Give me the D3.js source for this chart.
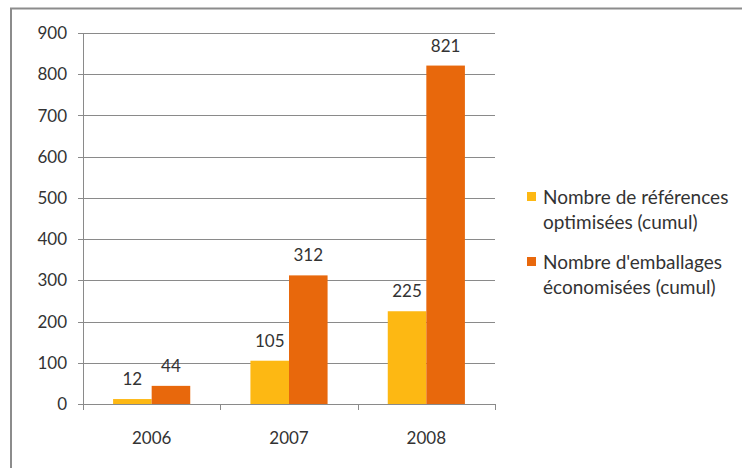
<!DOCTYPE html>
<html>
<head>
<meta charset="utf-8">
<script src="https://cdn.jsdelivr.net/npm/d3@7"></script>
<style>
  html, body { margin: 0; padding: 0; background: #fff; }
  svg { display: block; font-family: Lato, "Open Sans", sans-serif; }
</style>
</head>
<body>
<div id="chart"></div>
<script>
// Cumulative packaging optimisation, 2006-2008: two series side by side.
const years = ['2006', '2007', '2008'];
const refsOptimised = [12, 105, 225];
const packsSaved = [44, 312, 821];
const seriesNames = [
  ['Nombre de références', 'optimisées (cumul)'],
  ["Nombre d'emballages", 'économisées (cumul)'],
];
const seriesColors = ['#FDB813', '#E8680C'];
const yTicks = [0, 100, 200, 300, 400, 500, 600, 700, 800, 900];

const W = 742, H = 468;
const margin = { top: 33, right: 247, bottom: 64, left: 83 };
const innerW = W - margin.left - margin.right;
const innerH = H - margin.top - margin.bottom;

const svg = d3.select('#chart').append('svg').attr('width', W).attr('height', H);

// frame (only top + left edges show in the crop)
svg.append('line').attr('x1', 10).attr('x2', W).attr('y1', 8.5).attr('y2', 8.5)
  .style('stroke', '#8c8c8c').attr('stroke-width', 2);
svg.append('line').attr('x1', 11).attr('x2', 11).attr('y1', 8).attr('y2', H)
  .style('stroke', '#8c8c8c').attr('stroke-width', 2);

const g = svg.append('g').attr('transform', `translate(${margin.left},${margin.top})`);

const x = d3.scaleBand().domain(years).range([0, innerW]);
const xs = d3.scaleBand().domain([0, 1]).range([0, x.bandwidth()]).paddingInner(0).paddingOuter(0.78);
const y = d3.scaleLinear().domain([0, 900]).range([innerH, 0]);

// gridlines + y labels
const grid = g.append('g');
grid.selectAll('line').data(yTicks).join('line')
  .attr('x1', -5).attr('x2', innerW)
  .attr('y1', (d) => Math.round(y(d)) + 0.5).attr('y2', (d) => Math.round(y(d)) + 0.5)
  .style('stroke', '#8a8a8a').attr('stroke-width', 1);
grid.selectAll('text').data(yTicks).join('text')
  .attr('x', -16).attr('y', (d) => y(d)).attr('dy', '0.36em')
  .attr('text-anchor', 'end')
  .style('fill', '#333').style('font-size', '17px')
  .text((d) => d);

// y axis line
g.append('line').attr('x1', 0.5).attr('x2', 0.5).attr('y1', 0).attr('y2', innerH)
  .style('stroke', '#8a8a8a');

// bars
const series = [refsOptimised, packsSaved];
series.forEach((vals, si) => {
  const rows = years.map((yr, i) => ({ yr, v: vals[i] }));
  g.append('g').selectAll('rect').data(rows).join('rect')
    .attr('x', (d) => x(d.yr) + xs(si))
    .attr('y', (d) => y(d.v))
    .attr('width', xs.bandwidth())
    .attr('height', (d) => innerH - y(d.v))
    .style('fill', seriesColors[si]);
  g.append('g').selectAll('text').data(rows).join('text')
    .attr('x', (d) => x(d.yr) + xs(si) + xs.bandwidth() / 2)
    .attr('y', (d) => y(d.v) - 14)
    .attr('text-anchor', 'middle')
    .style('fill', '#333').style('font-size', '17px')
    .text((d) => d.v);
});

// x axis line + ticks at category boundaries
g.append('line').attr('x1', -5).attr('x2', innerW)
  .attr('y1', Math.round(innerH) + 0.5).attr('y2', Math.round(innerH) + 0.5)
  .style('stroke', '#8a8a8a');
const bounds = years.map((yr) => x(yr)).concat([innerW]);
g.append('g').selectAll('line').data(bounds).join('line')
  .attr('x1', (d) => Math.round(d) + 0.5).attr('x2', (d) => Math.round(d) + 0.5)
  .attr('y1', innerH).attr('y2', innerH + 6)
  .style('stroke', '#8a8a8a');
g.append('g').selectAll('text').data(years).join('text')
  .attr('x', (d) => x(d) + x.bandwidth() / 2)
  .attr('y', innerH + 40)
  .attr('text-anchor', 'middle')
  .style('fill', '#333').style('font-size', '17px')
  .text((d) => d);

// legend
const legend = svg.append('g').attr('transform', 'translate(527,0)');
seriesNames.forEach((lines, i) => {
  const top = 204 + i * 65;
  legend.append('rect').attr('x', 0).attr('y', top - 12).attr('width', 9).attr('height', 9)
    .style('fill', seriesColors[i]);
  legend.append('text').attr('x', 16).attr('y', top)
    .style('fill', '#333').style('font-size', '19px')
    .selectAll('tspan').data(lines).join('tspan')
    .attr('x', 16).attr('dy', (d, j) => (j === 0 ? 0 : 25))
    .text((d) => d);
});
</script>
</body>
</html>
